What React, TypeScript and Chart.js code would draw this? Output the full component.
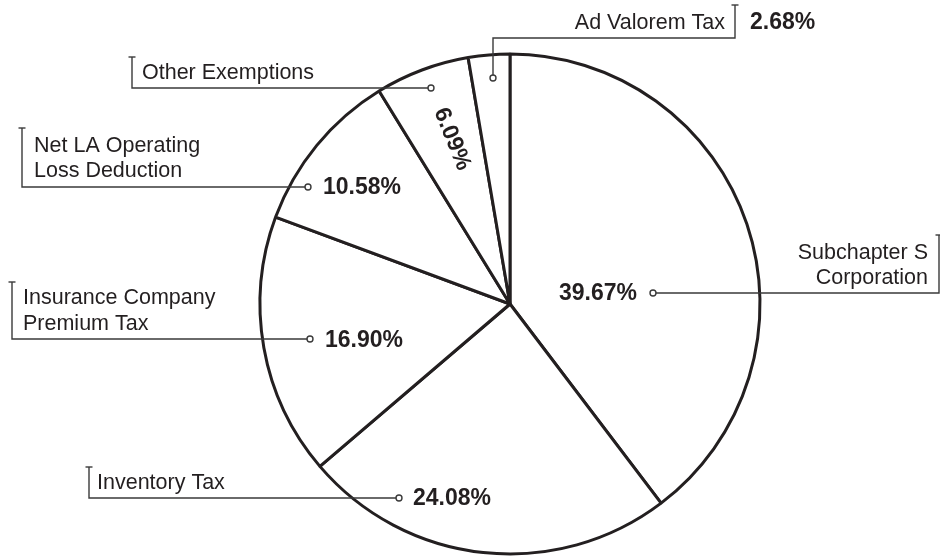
import React, { useEffect, useRef } from "react";
import { Chart, registerables } from "chart.js";

Chart.register(...registerables);

// ---- data ----
const categories = [
  "Subchapter S Corporation",
  "Inventory Tax",
  "Insurance Company Premium Tax",
  "Net LA Operating Loss Deduction",
  "Other Exemptions",
  "Ad Valorem Tax",
];
const shares = [39.67, 24.08, 16.9, 10.58, 6.09, 2.68];
const percentLabels = shares.map((v) => v.toFixed(2) + "%");
const labelLines = [
  ["Subchapter S", "Corporation"],
  ["Inventory Tax"],
  ["Insurance Company", "Premium Tax"],
  ["Net LA Operating", "Loss Deduction"],
  ["Other Exemptions"],
  ["Ad Valorem Tax"],
];

// ---- annotation layout (offsets from pie centre, at reference radius 250) ----
type Layout = {
  pct: [number, number];
  pctAlign: CanvasTextAlign;
  pctRot?: number;
  dot: [number, number];
  path: [number, number][];
  text: [number, number];
  textAlign: CanvasTextAlign;
  lineGap: number;
};
const layouts: Layout[] = [
  { pct: [88, -10], pctAlign: "center", dot: [143, -11], path: [[429, -11], [429, -69]], text: [418, -51], textAlign: "right", lineGap: 25 },
  { pct: [-97, 195], pctAlign: "left", dot: [-111, 194], path: [[-421, 194], [-421, 163]], text: [-413, 179], textAlign: "left", lineGap: 25 },
  { pct: [-185, 37], pctAlign: "left", dot: [-200, 35], path: [[-498, 35], [-498, -22]], text: [-487, -6], textAlign: "left", lineGap: 26 },
  { pct: [-187, -116], pctAlign: "left", dot: [-202, -117], path: [[-488, -117], [-488, -176]], text: [-476, -158], textAlign: "left", lineGap: 25 },
  { pct: [-58, -165], pctAlign: "center", pctRot: 68, dot: [-79, -216], path: [[-378, -216], [-378, -247]], text: [-368, -231], textAlign: "left", lineGap: 25 },
  { pct: [240, -281], pctAlign: "left", dot: [-17, -226], path: [[-17, -266], [225, -266], [225, -299]], text: [215, -281], textAlign: "right", lineGap: 25 },
];

const INK = "#231f20";
const LEADER = "#3a3a3a";
const FONT = '"Liberation Sans", Arial, Helvetica, sans-serif';

const labelPlugin = {
  id: "pieLabels",
  afterDraw(chart: any) {
    const meta = chart.getDatasetMeta(0);
    const first = meta.data[0];
    if (!first) return;
    const cx = first.x;
    const cy = first.y;
    const R = first.outerRadius;
    const k = R / 250;
    const P = (p: [number, number]) => [cx + p[0] * k, cy + p[1] * k];
    const ctx: CanvasRenderingContext2D = chart.ctx;
    ctx.save();
    layouts.forEach((L, i) => {
      // leader line
      ctx.strokeStyle = LEADER;
      ctx.lineWidth = 1.4;
      ctx.beginPath();
      const d = P(L.dot);
      ctx.moveTo(d[0], d[1]);
      L.path.forEach((p) => {
        const q = P(p);
        ctx.lineTo(q[0], q[1]);
      });
      ctx.stroke();
      // end tick
      const e = P(L.path[L.path.length - 1]);
      ctx.beginPath();
      ctx.moveTo(e[0] - 3.5, e[1]);
      ctx.lineTo(e[0] + 3.5, e[1]);
      ctx.stroke();
      // dot
      ctx.beginPath();
      ctx.arc(d[0], d[1], 3, 0, Math.PI * 2);
      ctx.fillStyle = "#ffffff";
      ctx.fill();
      ctx.stroke();
      // category text
      ctx.fillStyle = INK;
      ctx.font = `21.5px ${FONT}`;
      ctx.textAlign = L.textAlign;
      ctx.textBaseline = "middle";
      const t = P(L.text);
      labelLines[i].forEach((line, j) => {
        ctx.fillText(line, t[0], t[1] + j * L.lineGap * k);
      });
      // percentage
      ctx.font = `bold 23px ${FONT}`;
      const pp = P(L.pct);
      if (L.pctRot) {
        ctx.save();
        ctx.translate(pp[0], pp[1]);
        ctx.rotate((L.pctRot * Math.PI) / 180);
        ctx.textAlign = "center";
        ctx.fillText(percentLabels[i], 0, 0);
        ctx.restore();
      } else {
        ctx.textAlign = L.pctAlign;
        ctx.fillText(percentLabels[i], pp[0], pp[1]);
      }
    });
    ctx.restore();
  },
};

export default function App() {
  const ref = useRef<HTMLCanvasElement | null>(null);
  useEffect(() => {
    document.body.style.margin = "0";
    const canvas = ref.current;
    if (!canvas) return;
    const chart = new Chart(canvas, {
      type: "pie",
      data: {
        labels: categories,
        datasets: [
          {
            data: shares,
            backgroundColor: "#ffffff",
            borderColor: INK,
            borderWidth: 3,
            hoverBorderWidth: 3,
            hoverOffset: 0,
          },
        ],
      },
      options: {
        responsive: false,
        animation: false,
        devicePixelRatio: 1,
        layout: { padding: { left: 258.5, right: 178.5, top: 52.5, bottom: 0.5 } },
        plugins: {
          legend: { display: false },
          tooltip: { enabled: false },
        },
        events: [],
      },
      plugins: [labelPlugin],
    });
    return () => chart.destroy();
  }, []);
  return (
    <div style={{ position: "fixed", left: 0, top: 0, width: 940, height: 556, background: "#fff" }}>
      <canvas ref={ref} width={940} height={556} />
    </div>
  );
}
